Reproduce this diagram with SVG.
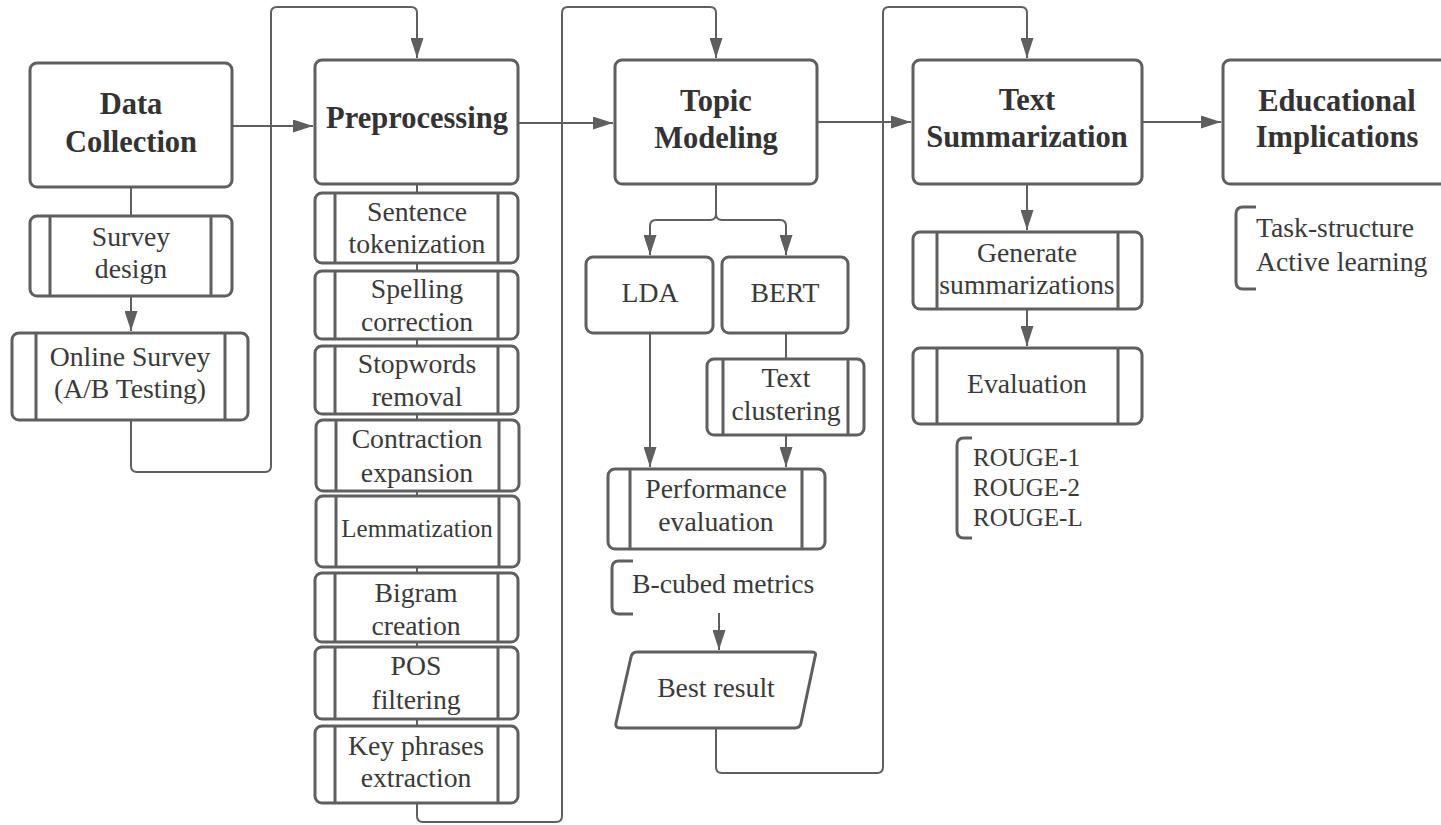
<svg xmlns="http://www.w3.org/2000/svg" width="1441" height="825" viewBox="0 0 1441 825">
<style>
.box{fill:#fff;stroke:#5f5f5f;stroke-width:3}
.bar{stroke:#5f5f5f;stroke-width:3}
.con{fill:none;stroke:#5f5f5f;stroke-width:2}
.brk{fill:none;stroke:#5f5f5f;stroke-width:3}
.h{font-family:"Liberation Serif",serif;font-weight:bold;font-size:30.5px;fill:#333;text-anchor:middle}
.t{font-family:"Liberation Serif",serif;font-size:27.7px;fill:#3a3a3a;text-anchor:middle}
.s{font-family:"Liberation Serif",serif;font-size:25px;fill:#3a3a3a}
.l{font-family:"Liberation Serif",serif;font-size:27.7px;fill:#3a3a3a}
</style>
<defs>
<marker id="ah" viewBox="0 0 20 13" refX="20" refY="6.5" markerWidth="20" markerHeight="13" markerUnits="userSpaceOnUse" orient="auto">
<path d="M0,0 L20,6.5 L0,13 z" fill="#5f5f5f"/>
</marker>
</defs>
<rect width="1441" height="825" fill="#fff"/>

<g id="connectors">
<path class="con" d="M232,126 H313" marker-end="url(#ah)"/>
<path class="con" d="M131,187 V216"/>
<path class="con" d="M131,296 V331" marker-end="url(#ah)"/>
<path class="con" d="M131,420 V466 Q131,472 137,472 H265 Q271,472 271,466 V13 Q271,7 277,7 H411 Q417,7 417,13 V58" marker-end="url(#ah)"/>
<path class="con" d="M518,123 H613" marker-end="url(#ah)"/>
<path class="con" d="M417,184 V193 M417,263 V271 M417,339 V346 M417,414 V420 M417,491 V496 M417,567 V573 M417,642 V647 M417,719 V726"/>
<path class="con" d="M417,803 V816 Q417,822 423,822 H556 Q562,822 562,816 V13 Q562,7 568,7 H710 Q716,7 716,13 V58" marker-end="url(#ah)"/>
<path class="con" d="M817,122 H911" marker-end="url(#ah)"/>
<path class="con" d="M716,184 V214 Q716,220 710,220 H656 Q650,220 650,226 V255" marker-end="url(#ah)"/>
<path class="con" d="M716,184 V214 Q716,220 722,220 H780 Q786,220 786,226 V255" marker-end="url(#ah)"/>
<path class="con" d="M650,333 V467" marker-end="url(#ah)"/>
<path class="con" d="M786,333 V359"/>
<path class="con" d="M786,435 V467" marker-end="url(#ah)"/>
<path class="con" d="M719,613 V650" marker-end="url(#ah)"/>
<path class="con" d="M716,728 V767 Q716,773 722,773 H877 Q883,773 883,767 V13 Q883,7 889,7 H1021 Q1027,7 1027,13 V58" marker-end="url(#ah)"/>
<path class="con" d="M1142,122 H1221" marker-end="url(#ah)"/>
<path class="con" d="M1027,184 V230" marker-end="url(#ah)"/>
<path class="con" d="M1027,309 V346" marker-end="url(#ah)"/>
</g>

<g id="data-collection">
<rect class="box" x="30" y="63" width="202" height="124" rx="7"/>
<text class="h" x="131" y="114">Data</text>
<text class="h" x="131" y="152">Collection</text>
</g>
<g id="survey-design">
<rect class="box" x="30" y="216" width="202" height="80" rx="7"/>
<line class="bar" x1="50" y1="216" x2="50" y2="296"/><line class="bar" x1="211" y1="216" x2="211" y2="296"/>
<text class="t" x="131" y="246">Survey</text>
<text class="t" x="131" y="278">design</text>
</g>
<g id="online-survey">
<rect class="box" x="12" y="333" width="236" height="87" rx="7"/>
<line class="bar" x1="36" y1="333" x2="36" y2="420"/><line class="bar" x1="225" y1="333" x2="225" y2="420"/>
<text class="t" x="130" y="366">Online Survey</text>
<text class="t" x="130" y="398">(A/B Testing)</text>
</g>

<g id="preprocessing">
<rect class="box" x="315" y="60" width="203" height="124" rx="7"/>
<text class="h" x="417" y="128">Preprocessing</text>
</g>
<g id="sentence-tokenization">
<rect class="box" x="315" y="193" width="203" height="70" rx="7"/>
<line class="bar" x1="335" y1="193" x2="335" y2="263"/><line class="bar" x1="498" y1="193" x2="498" y2="263"/>
<text class="t" x="417" y="221">Sentence</text>
<text class="t" x="417" y="253">tokenization</text>
</g>
<g id="spelling-correction">
<rect class="box" x="315" y="271" width="203" height="68" rx="7"/>
<line class="bar" x1="335" y1="271" x2="335" y2="339"/><line class="bar" x1="498" y1="271" x2="498" y2="339"/>
<text class="t" x="417" y="298">Spelling</text>
<text class="t" x="417" y="331">correction</text>
</g>
<g id="stopwords-removal">
<rect class="box" x="315" y="346" width="203" height="68" rx="7"/>
<line class="bar" x1="335" y1="346" x2="335" y2="414"/><line class="bar" x1="498" y1="346" x2="498" y2="414"/>
<text class="t" x="417" y="373">Stopwords</text>
<text class="t" x="417" y="406">removal</text>
</g>
<g id="contraction-expansion">
<rect class="box" x="316" y="420" width="203" height="71" rx="7"/>
<line class="bar" x1="336" y1="420" x2="336" y2="491"/><line class="bar" x1="499" y1="420" x2="499" y2="491"/>
<text class="t" x="417" y="448">Contraction</text>
<text class="t" x="417" y="482">expansion</text>
</g>
<g id="lemmatization">
<rect class="box" x="316" y="496" width="203" height="71" rx="7"/>
<line class="bar" x1="336" y1="496" x2="336" y2="567"/><line class="bar" x1="499" y1="496" x2="499" y2="567"/>
<text class="s" x="417" y="537" text-anchor="middle">Lemmatization</text>
</g>
<g id="bigram-creation">
<rect class="box" x="315" y="573" width="203" height="69" rx="7"/>
<line class="bar" x1="335" y1="573" x2="335" y2="642"/><line class="bar" x1="498" y1="573" x2="498" y2="642"/>
<text class="t" x="416" y="602">Bigram</text>
<text class="t" x="416" y="635">creation</text>
</g>
<g id="pos-filtering">
<rect class="box" x="315" y="647" width="203" height="72" rx="7"/>
<line class="bar" x1="335" y1="647" x2="335" y2="719"/><line class="bar" x1="498" y1="647" x2="498" y2="719"/>
<text class="t" x="416" y="675">POS</text>
<text class="t" x="416" y="709">filtering</text>
</g>
<g id="key-phrases-extraction">
<rect class="box" x="315" y="726" width="203" height="77" rx="7"/>
<line class="bar" x1="335" y1="726" x2="335" y2="803"/><line class="bar" x1="498" y1="726" x2="498" y2="803"/>
<text class="t" x="416" y="755">Key phrases</text>
<text class="t" x="416" y="787">extraction</text>
</g>

<g id="topic-modeling">
<rect class="box" x="615" y="60" width="202" height="124" rx="7"/>
<text class="h" x="716" y="111">Topic</text>
<text class="h" x="716" y="148">Modeling</text>
</g>
<g id="lda">
<rect class="box" x="586" y="257" width="127" height="76" rx="7"/>
<text class="t" x="650" y="302">LDA</text>
</g>
<g id="bert">
<rect class="box" x="722" y="257" width="126" height="76" rx="7"/>
<text class="t" x="785" y="302">BERT</text>
</g>
<g id="text-clustering">
<rect class="box" x="707" y="359" width="157" height="76" rx="7"/>
<line class="bar" x1="723" y1="359" x2="723" y2="435"/><line class="bar" x1="848" y1="359" x2="848" y2="435"/>
<text class="t" x="786" y="387">Text</text>
<text class="t" x="786" y="420">clustering</text>
</g>
<g id="performance-evaluation">
<rect class="box" x="608" y="469" width="217" height="80" rx="7"/>
<line class="bar" x1="630" y1="469" x2="630" y2="549"/><line class="bar" x1="802" y1="469" x2="802" y2="549"/>
<text class="t" x="716" y="498">Performance</text>
<text class="t" x="716" y="531">evaluation</text>
</g>
<g id="b-cubed">
<path class="brk" d="M633,561 H619 Q612,561 612,568 V607 Q612,614 619,614 H633"/>
<text class="l" x="632" y="593">B-cubed metrics</text>
</g>
<g id="best-result">
<path class="box" stroke-linejoin="round" d="M637,652 H812 Q817,652 815,657 L801,723 Q800,728 795,728 H620 Q615,728 616,723 L631,657 Q632,652 637,652 Z"/>
<text class="t" x="716" y="697">Best result</text>
</g>

<g id="text-summarization">
<rect class="box" x="913" y="60" width="229" height="124" rx="7"/>
<text class="h" x="1027" y="110">Text</text>
<text class="h" x="1027" y="147">Summarization</text>
</g>
<g id="generate-summarizations">
<rect class="box" x="913" y="232" width="229" height="77" rx="7"/>
<line class="bar" x1="937" y1="232" x2="937" y2="309"/><line class="bar" x1="1118" y1="232" x2="1118" y2="309"/>
<text class="t" x="1027" y="262">Generate</text>
<text class="t" x="1027" y="294">summarizations</text>
</g>
<g id="evaluation">
<rect class="box" x="913" y="348" width="229" height="76" rx="7"/>
<line class="bar" x1="937" y1="348" x2="937" y2="424"/><line class="bar" x1="1118" y1="348" x2="1118" y2="424"/>
<text class="t" x="1027" y="393">Evaluation</text>
</g>
<g id="rouge">
<path class="brk" d="M972,438 H964 Q957,438 957,445 V531 Q957,538 964,538 H972"/>
<text class="s" x="973" y="466">ROUGE-1</text>
<text class="s" x="973" y="496">ROUGE-2</text>
<text class="s" x="973" y="526">ROUGE-L</text>
</g>

<g id="educational-implications">
<rect class="box" x="1223" y="60" width="230" height="124" rx="7"/>
<text class="h" x="1337" y="111">Educational</text>
<text class="h" x="1337" y="147">Implications</text>
</g>
<g id="ei-notes">
<path class="brk" d="M1256,207 H1243 Q1236,207 1236,214 V282 Q1236,289 1243,289 H1256"/>
<text class="l" x="1256" y="237">Task-structure</text>
<text class="l" x="1256" y="271">Active learning</text>
</g>
</svg>
